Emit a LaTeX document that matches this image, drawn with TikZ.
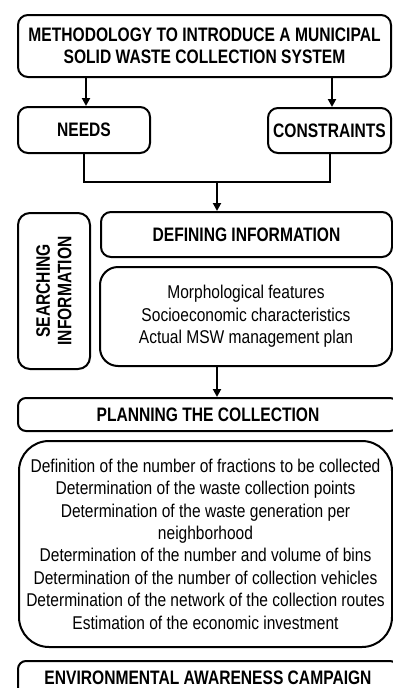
\documentclass[tikz,border=0pt]{standalone}
\usepackage{fontspec}
\setmainfont{Liberation Sans}[FakeStretch=0.84]
\newfontfamily{\headfamily}{Liberation Sans}[FakeStretch=0.8]
\usetikzlibrary{arrows.meta, positioning, calc}
\newcommand{\headfont}{\headfamily\fontsize{19.5}{21.5}\selectfont\bfseries}
\newcommand{\listfont}{\fontsize{18.5}{22.4}\selectfont}

\begin{document}
\begin{tikzpicture}[x=1pt, y=-1pt, font=\listfont,
  box/.style={draw, line width=2pt, rounded corners=#1, inner sep=0pt,
              align=center},
  box/.default=10pt,
  flow/.style={line width=2pt, -{Triangle[length=8pt, width=8pt]}}]
  \useasboundingbox (0,0) rectangle (393,688);
  % top of the method
  \node[box, minimum width=373, minimum height=62, font=\headfont]
    (method) at (204.5,46)
    {METHODOLOGY TO INTRODUCE A MUNICIPAL\\SOLID WASTE COLLECTION SYSTEM};
  \node[box, minimum width=132, minimum height=46, font=\headfont]
    (needs) at (84,130) {NEEDS};
  \node[box, minimum width=123, minimum height=45, font=\headfont]
    (limits) at (329.5,130.5) {CONSTRAINTS};
  \draw[flow] (method.south -| 86,0) -- (needs.north -| 86,0);
  \draw[flow] (method.south -| 332,0) -- (limits.north -| 332,0);
  \coordinate (merge) at (217,182);
  \draw[line width=2pt] (needs.south) |- (merge) -| (limits.south);
  % information
  \node[box, minimum width=291, minimum height=45, font=\headfont]
    (define) at (246.5,234.5) {DEFINING INFORMATION};
  \node[box=12pt, rotate=90, minimum width=156, minimum height=72,
        font=\headfont]
    (search) at (54,291) {SEARCHING\\INFORMATION};
  \node[box=18pt, minimum width=292, minimum height=99] (features)
    at (246,316.5)
    {Morphological features\\Socioeconomic characteristics\\
     Actual MSW management plan};
  \draw[flow] (merge) -- (merge |- define.north);
  % planning
  \node[box=8pt, minimum width=380, minimum height=33, font=\headfont]
    (plan) at (208,414.5) {PLANNING THE COLLECTION};
  \draw[flow] (features.south -| merge) -- (plan.north -| merge);
  \node[box=30pt, minimum width=373, minimum height=206] (steps)
    at (205.5,544)
    {Definition of the number of fractions to be collected\\
     Determination of the waste collection points\\
     Determination of the waste generation per\\
     neighborhood\\
     Determination of the number and volume of bins\\
     Determination of the number of collection vehicles\\
     Determination of the network of the collection routes\\
     Estimation of the economic investment};
  \node[box=8pt, minimum width=380, minimum height=34, font=\headfont]
    (campaign) at (208,678) {ENVIRONMENTAL AWARENESS CAMPAIGN};
\end{tikzpicture}
\end{document}
